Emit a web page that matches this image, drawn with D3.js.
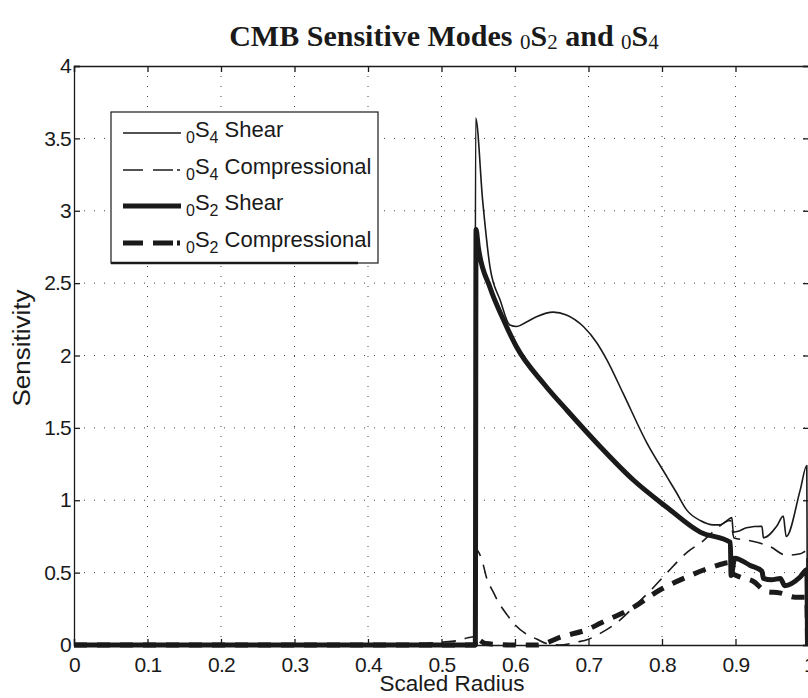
<!DOCTYPE html>
<html>
<head>
<meta charset="utf-8">
<script src="https://cdn.jsdelivr.net/npm/d3@7"></script>
<style>
  body { margin: 0; background: #fff; }
  svg { display: block; }
  text { font-family: "Liberation Sans", Arial, sans-serif; fill: #1a1a1a; }
</style>
</head>
<body>
<div id="chart"></div>
<script>
// Dados
const s4ShearR = [0, 0.1, 0.2, 0.3, 0.4, 0.5, 0.545, 0.5465, 0.556, 0.566, 0.58, 0.593, 0.602, 0.615, 0.63, 0.652, 0.67, 0.693, 0.711, 0.725, 0.747, 0.779, 0.807, 0.82, 0.834, 0.852, 0.87, 0.879, 0.886, 0.895, 0.897, 0.906, 0.915, 0.936, 0.938, 0.956, 0.965, 0.969, 0.988, 0.997, 0.998];
const s4ShearV = [0.005, 0.005, 0.005, 0.005, 0.005, 0.005, 0.005, 3.64, 3.07, 2.61, 2.38, 2.21, 2.20, 2.23, 2.27, 2.30, 2.28, 2.20, 2.09, 1.97, 1.74, 1.40, 1.16, 1.05, 0.93, 0.86, 0.83, 0.83, 0.85, 0.88, 0.78, 0.79, 0.81, 0.82, 0.74, 0.82, 0.89, 0.75, 1.07, 1.24, 0];

const s4CompR = [0, 0.1, 0.2, 0.3, 0.4, 0.45, 0.5, 0.521, 0.536, 0.546, 0.547, 0.557, 0.561, 0.570, 0.577, 0.589, 0.600, 0.614, 0.630, 0.643, 0.66, 0.684, 0.70, 0.716, 0.74, 0.761, 0.785, 0.807, 0.834, 0.856, 0.869, 0.893, 0.898, 0.92, 0.947, 0.969, 0.988, 0.997, 0.998];
const s4CompV = [0.005, 0.005, 0.005, 0.005, 0.005, 0.008, 0.02, 0.03, 0.05, 0.06, 0.66, 0.55, 0.47, 0.37, 0.30, 0.21, 0.14, 0.08, 0.04, 0.01, 0.0, 0.02, 0.04, 0.08, 0.16, 0.26, 0.38, 0.50, 0.64, 0.72, 0.78, 0.86, 0.74, 0.72, 0.68, 0.62, 0.63, 0.65, 0];

const s2ShearR = [0, 0.546, 0.547, 0.550, 0.566, 0.584, 0.602, 0.64, 0.671, 0.716, 0.761, 0.807, 0.852, 0.893, 0.894, 0.899, 0.920, 0.936, 0.938, 0.949, 0.961, 0.967, 0.988, 0.997, 0.998];
const s2ShearV = [0, 0, 2.87, 2.75, 2.47, 2.25, 2.06, 1.80, 1.62, 1.37, 1.14, 0.95, 0.78, 0.71, 0.48, 0.60, 0.55, 0.51, 0.46, 0.45, 0.46, 0.41, 0.47, 0.52, 0];

const s2CompR = [0, 0.5, 0.546, 0.547, 0.55, 0.56, 0.6, 0.63, 0.665, 0.70, 0.716, 0.761, 0.797, 0.834, 0.869, 0.893, 0.895, 0.906, 0.924, 0.942, 0.960, 0.981, 0.997, 0.998];
const s2CompV = [0, 0, 0, 0.05, 0.04, 0.01, 0.0, 0.0, 0.06, 0.11, 0.15, 0.26, 0.38, 0.47, 0.54, 0.57, 0.50, 0.47, 0.44, 0.37, 0.36, 0.33, 0.33, 0];

const xTicks = [0, 0.1, 0.2, 0.3, 0.4, 0.5, 0.6, 0.7, 0.8, 0.9, 1];
const yTicks = [0, 0.5, 1, 1.5, 2, 2.5, 3, 3.5, 4];

const series = [
  { mode: "4", kind: "Shear", r: s4ShearR, v: s4ShearV, width: 1.6, dash: null },
  { mode: "4", kind: "Compressional", r: s4CompR, v: s4CompV, width: 1.6, dash: "14,9" },
  { mode: "2", kind: "Shear", r: s2ShearR, v: s2ShearV, width: 5, dash: null },
  { mode: "2", kind: "Compressional", r: s2CompR, v: s2CompV, width: 5, dash: "13,10" }
];

const width = 808, height = 698;
const margin = { top: 66, right: -1, bottom: 53, left: 74 };
const w = width - margin.left - margin.right;
const h = height - margin.top - margin.bottom;

const svg = d3.select("#chart").append("svg")
  .attr("width", width).attr("height", height);

const g = svg.append("g").attr("transform", `translate(${margin.left},${margin.top})`);

const x = d3.scaleLinear().domain([0, 1]).range([0, w]);
const y = d3.scaleLinear().domain([0, 4]).range([h, 0]);

// Grade pontilhada
g.selectAll(".gx").data(xTicks.slice(1, -1)).enter().append("line")
  .attr("x1", d => x(d)).attr("x2", d => x(d)).attr("y1", 0).attr("y2", h)
  .attr("stroke", "#444").attr("stroke-width", 1).attr("stroke-dasharray", "1,9");
g.selectAll(".gy").data(yTicks.slice(1, -1)).enter().append("line")
  .attr("y1", d => y(d)).attr("y2", d => y(d)).attr("x1", 0).attr("x2", w)
  .attr("stroke", "#444").attr("stroke-width", 1).attr("stroke-dasharray", "1,9");

// Eixos (estilo caixa, ticks para dentro)
const axB = g.append("g").attr("transform", `translate(0,${h})`)
  .call(d3.axisBottom(x).tickValues(xTicks).tickSize(-6).tickPadding(14).tickFormat(d3.format("~g")));
const axT = g.append("g").call(d3.axisTop(x).tickValues(xTicks).tickSize(-6).tickFormat(""));
const axL = g.append("g")
  .call(d3.axisLeft(y).tickValues(yTicks).tickSize(-6).tickPadding(3).tickFormat(d3.format("~g")));
const axR = g.append("g").attr("transform", `translate(${w},0)`)
  .call(d3.axisRight(y).tickValues(yTicks).tickSize(-6).tickFormat(""));

[axB, axT, axL, axR].forEach(a => {
  a.select(".domain").attr("stroke", "#1a1a1a").attr("stroke-width", 1.3);
  a.selectAll(".tick line").attr("stroke", "#1a1a1a").attr("stroke-width", 1.3);
  a.selectAll("text").attr("font-size", 21).attr("letter-spacing", -0.8)
    .attr("font-family", "Liberation Sans, Arial, sans-serif").attr("fill", "#1a1a1a");
});
axB.selectAll("text").attr("dy", "0.6em");

// Curvas
const line = d3.line()
  .x(d => x(d[0])).y(d => y(d[1]))
  .curve(d3.curveMonotoneX);

series.forEach(s => {
  g.append("path")
    .datum(s.r.map((r, i) => [r, s.v[i]]))
    .attr("d", line)
    .attr("fill", "none")
    .attr("stroke", "#1a1a1a")
    .attr("stroke-width", s.width)
    .attr("stroke-linejoin", "round")
    .attr("stroke-dasharray", s.dash);
});

// Rótulos dos eixos
svg.append("text")
  .attr("x", 452).attr("y", 691)
  .attr("text-anchor", "middle").attr("font-size", 22.5)
  .text("Scaled Radius");

svg.append("text")
  .attr("transform", "translate(30,348) rotate(-90)")
  .attr("text-anchor", "middle").attr("font-size", 23)
  .attr("textLength", 117).attr("lengthAdjust", "spacingAndGlyphs")
  .text("Sensitivity");

// Título
const title = svg.append("text")
  .attr("x", 444).attr("y", 46)
  .attr("text-anchor", "middle")
  .style("font-family", "Liberation Serif, Times New Roman, serif")
  .attr("font-weight", "bold").attr("font-size", 30);
const parts = [["CMB Sensitive Modes ", 0], ["0", 1], ["S", 0], ["2", 1], [" and ", 0], ["0", 1], ["S", 0], ["4", 1]];
parts.forEach((p, i) => {
  const prevSub = i > 0 && parts[i - 1][1];
  const dy = p[1] && !prevSub ? 3 : (!p[1] && prevSub ? -3 : 0);
  title.append("tspan")
    .attr("dy", dy)
    .attr("font-size", p[1] ? 21 : 30)
    .attr("font-weight", p[1] ? "normal" : "bold")
    .text(p[0]);
});

// Legenda
const leg = svg.append("g");
leg.append("rect")
  .attr("x", 111).attr("y", 112).attr("width", 267).attr("height", 151)
  .attr("fill", "#fff").attr("stroke", "#1a1a1a").attr("stroke-width", 1.2);
leg.append("line")
  .attr("x1", 111).attr("x2", 358).attr("y1", 263).attr("y2", 263)
  .attr("stroke", "#1a1a1a").attr("stroke-width", 2.5);

const rowsY = [133, 170, 206, 243];
series.forEach((s, i) => {
  leg.append("line")
    .attr("x1", 123).attr("x2", 181).attr("y1", rowsY[i]).attr("y2", rowsY[i])
    .attr("stroke", "#1a1a1a").attr("stroke-width", s.width)
    .attr("stroke-dasharray", s.dash ? "20,10,20,4,3,100" : null);
  const t = leg.append("text")
    .attr("x", 186).attr("y", rowsY[i] + 4)
    .attr("font-size", 22);
  t.append("tspan").attr("font-size", 16).attr("dy", 6).text("0");
  t.append("tspan").attr("dy", -6).text("S");
  t.append("tspan").attr("font-size", 16).attr("dy", 6).text(s.mode);
  t.append("tspan").attr("dy", -6).text(" " + s.kind);
});
</script>
</body>
</html>
